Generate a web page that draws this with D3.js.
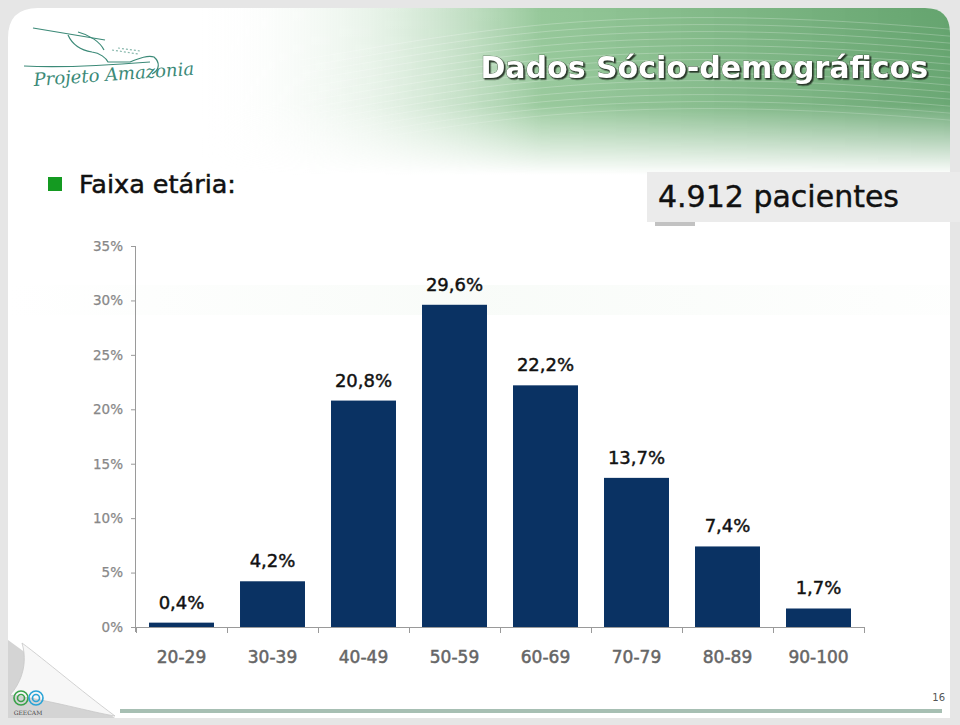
<!DOCTYPE html>
<html>
<head>
<meta charset="utf-8">
<script src="https://cdn.jsdelivr.net/npm/d3@7"></script>
<style>
  html, body { margin: 0; padding: 0; background: #e4e4e4; }
  svg { display: block; }
</style>
</head>
<body>
<svg id="chart" width="960" height="725"></svg>
<script>
// ---- data ----
const categories = ["20-29", "30-39", "40-49", "50-59", "60-69", "70-79", "80-89", "90-100"];
const values = [0.4, 4.2, 20.8, 29.6, 22.2, 13.7, 7.4, 1.7];
const valueLabels = ["0,4%", "4,2%", "20,8%", "29,6%", "22,2%", "13,7%", "7,4%", "1,7%"];
const yTicks = [0, 5, 10, 15, 20, 25, 30, 35];
const titleText = "Dados Sócio-demográficos";
const subtitleText = "Faixa etária:";
const totalText = "4.912 pacientes";
const pageNumber = "16";

const svg = d3.select("#chart");
const W = 960, H = 725;
const defs = svg.append("defs");

// ---- slide background ----
svg.append("rect").attr("width", W).attr("height", H).attr("fill", "#e6e6e6");

const panelPath = "M8,38 Q8,8 38,8 L925,8 Q950,8 950,33 L950,718 L8,718 Z";
svg.append("path").attr("d", panelPath).attr("fill", "#ffffff");

// header green gradient
const gH = defs.append("linearGradient").attr("id", "gH").attr("x1", "0").attr("x2", "1").attr("y1", "0").attr("y2", "0");
gH.append("stop").attr("offset", "0").attr("stop-color", "#ffffff").attr("stop-opacity", 0);
gH.append("stop").attr("offset", "0.22").attr("stop-color", "#cfe6d1").attr("stop-opacity", 0.45);
gH.append("stop").attr("offset", "0.45").attr("stop-color", "#8fc493").attr("stop-opacity", 0.95);
gH.append("stop").attr("offset", "1").attr("stop-color", "#62a26c").attr("stop-opacity", 1);
const gV = defs.append("linearGradient").attr("id", "gV").attr("x1", "0").attr("x2", "0").attr("y1", "0").attr("y2", "1");
gV.append("stop").attr("offset", "0").attr("stop-color", "#fff").attr("stop-opacity", 1);
gV.append("stop").attr("offset", "0.6").attr("stop-color", "#fff").attr("stop-opacity", 0.95);
gV.append("stop").attr("offset", "1").attr("stop-color", "#fff").attr("stop-opacity", 0);
const mask = defs.append("mask").attr("id", "mV");
mask.append("rect").attr("x", 0).attr("y", 0).attr("width", W).attr("height", 175).attr("fill", "url(#gV)");
defs.append("clipPath").attr("id", "panelClip").append("path").attr("d", panelPath);

const header = svg.append("g").attr("clip-path", "url(#panelClip)");
header.append("rect").attr("x", 200).attr("y", 8).attr("width", 760).attr("height", 170)
  .attr("fill", "url(#gH)").attr("mask", "url(#mV)");
// faint wave lines
const waves = header.append("g").attr("mask", "url(#mV)").attr("fill", "none").attr("stroke", "#ffffff");
for (let i = 0; i < 14; i++) {
  const y0 = 20 + i * 7;
  waves.append("path")
    .attr("d", `M300,${y0 + 40} C480,${y0 + 10} 620,${y0 - 20} 960,${y0 + 10}`)
    .attr("stroke-opacity", 0.3).attr("stroke-width", 0.8);
}
// very faint green band across the chart area
const gBand = defs.append("linearGradient").attr("id", "gBand").attr("x1", "0").attr("x2", "1");
gBand.append("stop").attr("offset", "0").attr("stop-color", "#f2f8f2").attr("stop-opacity", 0);
gBand.append("stop").attr("offset", "0.5").attr("stop-color", "#f2f8f2").attr("stop-opacity", 0.5);
gBand.append("stop").attr("offset", "1").attr("stop-color", "#f2f8f2").attr("stop-opacity", 0.1);
header.append("rect").attr("x", 8).attr("y", 285).attr("width", 942).attr("height", 30).attr("fill", "url(#gBand)");

// logo
const logo = svg.append("g").attr("fill", "none").attr("stroke", "#3c8a78").attr("stroke-width", 1.2);
logo.append("path").attr("d", "M33,28 L105,40");
logo.append("path").attr("d", "M68,35 C72,44 80,50 92,52 C100,53 106,58 108,62 L130,62 C140,58 148,55 154,57 C160,62 160,70 152,74");
logo.append("path").attr("d", "M78,32 C90,35 100,42 104,50");
logo.append("path").attr("d", "M112,50 L138,54 M118,48 L140,51").attr("stroke-dasharray", "2,2").attr("stroke-opacity", 0.6);
logo.append("path").attr("d", "M24,66 C60,68 100,66 150,62");
svg.append("text").attr("x", 34).attr("y", 86)
  .attr("font-family", "DejaVu Serif").attr("font-style", "italic").attr("font-size", 18)
  .attr("fill", "#3c8a78").attr("transform", "rotate(-4,34,86)")
  .text("Projeto Amazonia");

// title with drop shadow filter
const f = defs.append("filter").attr("id", "tshadow").attr("x", "-5%").attr("y", "-20%").attr("width", "110%").attr("height", "150%");
f.append("feDropShadow").attr("dx", 1.5).attr("dy", 1.5).attr("stdDeviation", 0.6).attr("flood-color", "#1e2a1e").attr("flood-opacity", 0.9);
svg.append("text").attr("x", 928).attr("y", 78)
  .attr("font-family", "DejaVu Sans").attr("font-weight", "bold").attr("font-size", 30)
  .attr("text-anchor", "end").attr("fill", "#ffffff")
  .attr("stroke", "#334433").attr("stroke-width", 0.7).attr("paint-order", "stroke")
  .attr("filter", "url(#tshadow)").text(titleText);

// subtitle
svg.append("rect").attr("x", 48).attr("y", 177).attr("width", 14).attr("height", 14).attr("fill", "#149a21");
svg.append("text").attr("x", 79).attr("y", 193).attr("font-family", "DejaVu Sans").attr("font-size", 25.5)
  .attr("fill", "#111").attr("stroke", "#111").attr("stroke-width", 0.5).text(subtitleText);

// total box
svg.append("rect").attr("x", 655).attr("y", 220).attr("width", 40).attr("height", 6).attr("fill", "#9a9a9a").attr("opacity", 0.6);
svg.append("rect").attr("x", 647).attr("y", 172).attr("width", 313).attr("height", 50).attr("fill", "#ebebeb");
svg.append("text").attr("x", 658).attr("y", 207).attr("font-family", "DejaVu Sans").attr("font-size", 30)
  .attr("fill", "#111").attr("stroke", "#111").attr("stroke-width", 0.4).text(totalText);

// ---- chart ----
const y = d3.scaleLinear().domain([0, 35]).range([627, 246]);
const x = d3.scaleBand().domain(categories).range([136, 864]).paddingInner(0.286).paddingOuter(0.143);
const step = x.step();

const yAxis = d3.axisLeft(y).tickValues(yTicks).tickSize(5).tickPadding(8).tickFormat(d => d + "%");
const gy = svg.append("g").attr("transform", "translate(136,0)").call(yAxis);
gy.select(".domain").attr("stroke", "#9a9a9a").attr("d", "M-0.5,246V632");
gy.selectAll(".tick line").attr("stroke", "#9a9a9a");
gy.selectAll(".tick text").attr("font-family", "DejaVu Sans").attr("font-size", 13.5).attr("fill", "#888")
  .attr("stroke", "#888").attr("stroke-width", 0.25);

// x axis line and boundary ticks
svg.append("line").attr("x1", 136).attr("x2", 864).attr("y1", 627.5).attr("y2", 627.5).attr("stroke", "#9a9a9a");
const boundaries = categories.map(c => x(c) - step * x.paddingInner() / 2).concat([864]);
svg.append("g").selectAll("line").data(boundaries).join("line")
  .attr("x1", d => Math.round(d) + 0.5).attr("x2", d => Math.round(d) + 0.5)
  .attr("y1", 627).attr("y2", 633).attr("stroke", "#9a9a9a");

// category labels
svg.append("g").selectAll("text").data(categories).join("text")
  .attr("x", d => x(d) + x.bandwidth() / 2).attr("y", 663)
  .attr("text-anchor", "middle").attr("font-family", "DejaVu Sans").attr("font-size", 17)
  .attr("fill", "#666").attr("stroke", "#666").attr("stroke-width", 0.5).text(d => d);

// bars
svg.append("g").selectAll("rect").data(values).join("rect")
  .attr("x", (d, i) => x(categories[i])).attr("width", x.bandwidth())
  .attr("y", d => y(d)).attr("height", d => y(0) - y(d))
  .attr("fill", "#0a3263");

// value labels
svg.append("g").selectAll("text").data(values).join("text")
  .attr("x", (d, i) => x(categories[i]) + x.bandwidth() / 2)
  .attr("y", d => y(d) - 14)
  .attr("text-anchor", "middle").attr("font-family", "DejaVu Sans").attr("font-size", 18)
  .attr("fill", "#111").attr("stroke", "#111").attr("stroke-width", 0.45).text((d, i) => valueLabels[i]);

// ---- footer ----
svg.append("rect").attr("x", 120).attr("y", 709).attr("width", 822).attr("height", 4).attr("fill", "#a7bfb3");
svg.append("text").attr("x", 945).attr("y", 701).attr("text-anchor", "end").attr("font-family", "DejaVu Sans")
  .attr("font-size", 10).attr("fill", "#555").text(pageNumber);

// page curl bottom-left
svg.append("path").attr("d", "M8,640 L8,718 L115,718 Z").attr("fill", "#d4d4d4");
svg.append("path").attr("d", "M22,643 C30,670 15,690 10,695 C50,700 90,712 115,716 C80,690 45,660 22,643 Z")
  .attr("fill", "#f7f7f7").attr("stroke", "#c8c8c8").attr("stroke-width", 0.8);

// GEECAM mark
const spir = svg.append("g").attr("fill", "none").attr("stroke-width", 1.6);
spir.append("circle").attr("cx", 21).attr("cy", 698).attr("r", 7).attr("stroke", "#3aa24a");
spir.append("circle").attr("cx", 21).attr("cy", 698).attr("r", 3.5).attr("stroke", "#3aa24a");
spir.append("circle").attr("cx", 36).attr("cy", 698).attr("r", 7).attr("stroke", "#29a3d6");
spir.append("circle").attr("cx", 36).attr("cy", 698).attr("r", 3.5).attr("stroke", "#29a3d6");
svg.append("text").attr("x", 28).attr("y", 715).attr("text-anchor", "middle").attr("font-family", "DejaVu Serif")
  .attr("font-size", 6).attr("fill", "#444").text("GEECAM");
</script>
</body>
</html>
